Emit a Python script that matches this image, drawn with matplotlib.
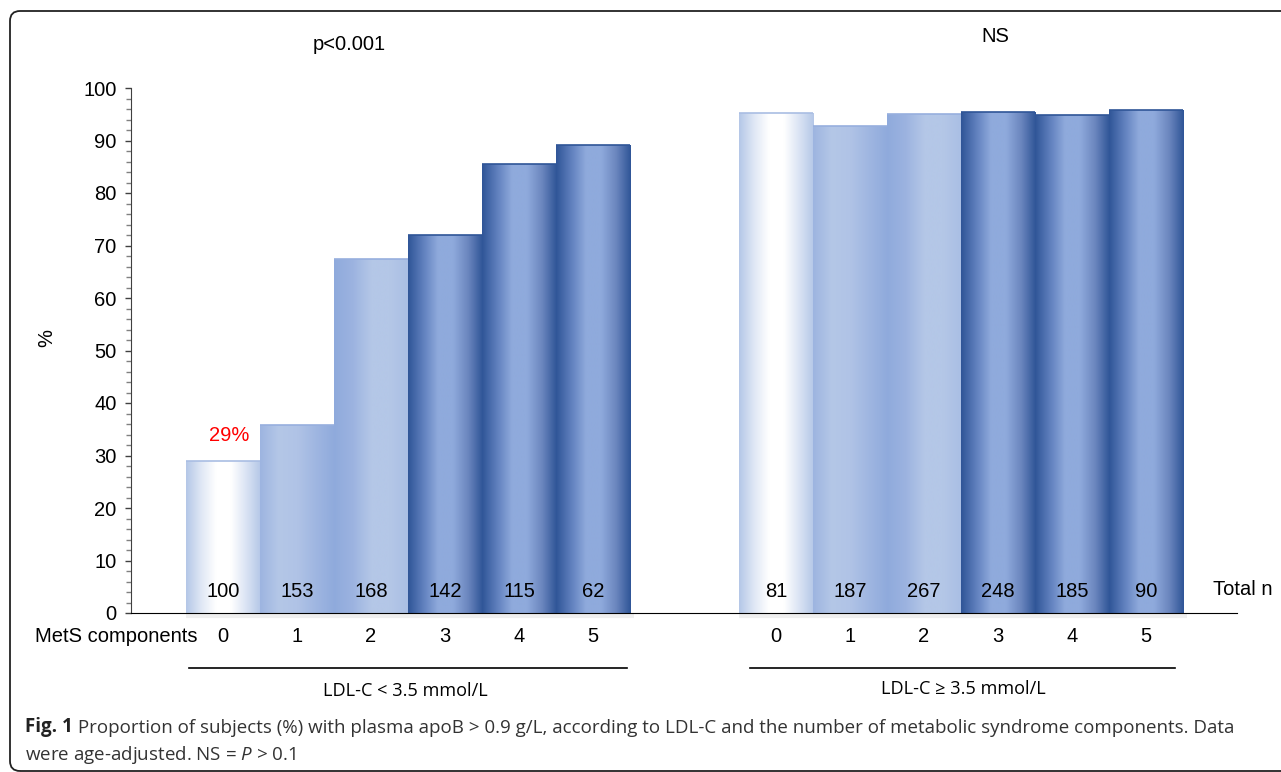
import numpy as np
import matplotlib
matplotlib.use("Agg")
from matplotlib import pyplot as plt
from matplotlib.colors import LinearSegmentedColormap
from matplotlib.patches import FancyBboxPatch

# data
groups = ["LDL-C < 3.5 mmol/L", "LDL-C \u2265 3.5 mmol/L"]
group_tests = ["p<0.001", "NS"]
mets_components = ["0", "1", "2", "3", "4", "5"]
pct_low_ldl = [29.0, 35.9, 67.5, 72.0, 85.5, 89.1]
pct_high_ldl = [95.3, 92.7, 95.0, 95.4, 94.8, 95.8]
n_low_ldl = [100, 153, 168, 142, 115, 62]
n_high_ldl = [81, 187, 267, 248, 185, 90]
yticks = list(range(0, 101, 10))

plt.rcParams["font.family"] = ["Liberation Sans", "DejaVu Sans"]
plt.rcParams["mathtext.fontset"] = "custom"
plt.rcParams["mathtext.rm"] = "Open Sans"
plt.rcParams["mathtext.it"] = "Open Sans:italic"
plt.rcParams["mathtext.bf"] = "Open Sans:bold"

# gradient styles (light / middle / dark cylinder)
styles = {
    "white": ["#b4c7e7", "#dfe7f5", "#ffffff", "#ffffff", "#dbe4f4", "#b4c7e7"],
    "mid1": ["#9db4e0", "#b4c7e7", "#b0c3e6", "#9fb6e1", "#8faadc"],
    "mid2": ["#8faadc", "#9cb3e0", "#b4c7e7", "#b4c7e7", "#a9bee4"],
    "dark": ["#2f5597", "#5f7fbd", "#8faadc", "#8faadc", "#6c87bf", "#2f5597"],
}
bar_style = ["white", "mid1", "mid2", "dark", "dark", "dark"]
top_edge = {"white": "#a9bde3", "mid1": "#97afde", "mid2": "#97afde", "dark": "#2f5597"}

fig = plt.figure(figsize=(12.81, 7.72), dpi=100)
ax = fig.add_axes([131 / 1281, 1 - 613 / 772, 1106 / 1281, 525 / 772])

#draw one group of gradient bars
def draw_group(x0, values, counts):
    xs = x0 + np.arange(len(values))
    bars = ax.bar(xs, values, width=1.0, align="edge", color="none", zorder=2)
    for b, s in zip(bars, bar_style):
        cmap = LinearSegmentedColormap.from_list(s, styles[s])
        grad = np.linspace(0, 1, 256).reshape(1, -1)
        x, w, h = b.get_x(), b.get_width(), b.get_height()
        im = ax.imshow(grad, cmap=cmap, extent=(x, x + w, 0, h), aspect="auto",
                       origin="lower", zorder=2, interpolation="bilinear")
        im.set_clip_path(b)
        ax.plot([x, x + w], [h, h], color=top_edge[s], lw=1.2, zorder=3,
                solid_capstyle="butt")
    for x, n in zip(xs, counts):
        ax.text(x + 0.5, 4.1, str(n), ha="center", va="center", fontsize=14.5, zorder=4)
    for x, c in zip(xs, mets_components):
        ax.text(x + 0.5, -4.5, c, ha="center", va="center", fontsize=14.5, clip_on=False)
    # soft shadow under baseline
    ax.plot([xs[0], xs[-1] + 1.05], [-0.6, -0.6], color="#efefef", lw=3, zorder=1,
            clip_on=False, solid_capstyle="butt")
    return xs

gap = 7.47
xs_low = draw_group(0, pct_low_ldl, n_low_ldl)
xs_high = draw_group(gap, pct_high_ldl, n_high_ldl)

ax.set_xlim(-0.743, 14.2)
ax.set_ylim(0, 100)
ax.set_yticks(yticks)
ax.set_yticks(np.arange(0, 101, 2), minor=True)
ax.tick_params(axis="y", which="major", length=4.5, width=1, labelsize=14.5, pad=6,
               color="#404040")
ax.tick_params(axis="y", which="minor", length=3.5, width=1, color="#808080")
ax.set_xticks([])
for sp in ["top", "right"]:
    ax.spines[sp].set_visible(False)
ax.spines["left"].set_color("#404040")
ax.spines["bottom"].set_color("#000000")
ax.spines["bottom"].set_zorder(5)

# texts around the plot
ax.text(0.16, -4.5, "MetS components", ha="right", va="center", fontsize=14.5, clip_on=False)
ax.text(13.88, 4.4, "Total n", ha="left", va="center", fontsize=14.5, clip_on=False)
ax.text(0.58, 33.9, "29%", ha="center", va="center", fontsize=14.5, color="#ff0000")
ax.text(2.2, 108.2, group_tests[0], ha="center", va="center", fontsize=14.5, clip_on=False)
ax.text(10.93, 109.9, group_tests[1], ha="center", va="center", fontsize=14.5, clip_on=False)
fig.text(47 / 1281, 1 - 338 / 772, "%", rotation=90, ha="center", va="center", fontsize=14.5)

# group underlines + labels
ax.plot([0.04, 5.96], [-10.4, -10.4], color="#000000", lw=1.2, clip_on=False)
ax.plot([7.62, 13.36], [-10.4, -10.4], color="#000000", lw=1.2, clip_on=False)
ax.text(2.96, -14.9, groups[0], ha="center", va="center", fontsize=13.1,
        family="Open Sans", clip_on=False)
ax.text(10.5, -14.4, groups[1], ha="center", va="center", fontsize=13.1,
        family="Open Sans", clip_on=False)

# caption
cap_color = "#333333"
fig_lbl = fig.text(25 / 1281, 1 - 727 / 772, "Fig. 1", ha="left", va="center",
                   fontsize=13.5, family="Open Sans", weight="bold", color="#222222")
ax.annotate(" Proportion of subjects (%) with plasma apoB > 0.9 g/L, according to "
            "LDL-C and the number of metabolic syndrome components. Data",
            xy=(1, 0), xycoords=fig_lbl, ha="left", va="bottom", fontsize=13.5,
            family="Open Sans", color=cap_color, annotation_clip=False)
fig.text(25 / 1281, 1 - 755 / 772, r"were age-adjusted. NS = $\mathit{P}$ > 0.1",
         ha="left", va="center", fontsize=13.5, family="Open Sans", color=cap_color)

# rounded frame
frame = FancyBboxPatch((10, 1), 1300, 760, boxstyle="round,pad=0,rounding_size=10",
                       transform=None, fill=False, edgecolor="#222222", lw=1.3)
fig.patches.append(frame)

fig.savefig("out.png", dpi=100)
